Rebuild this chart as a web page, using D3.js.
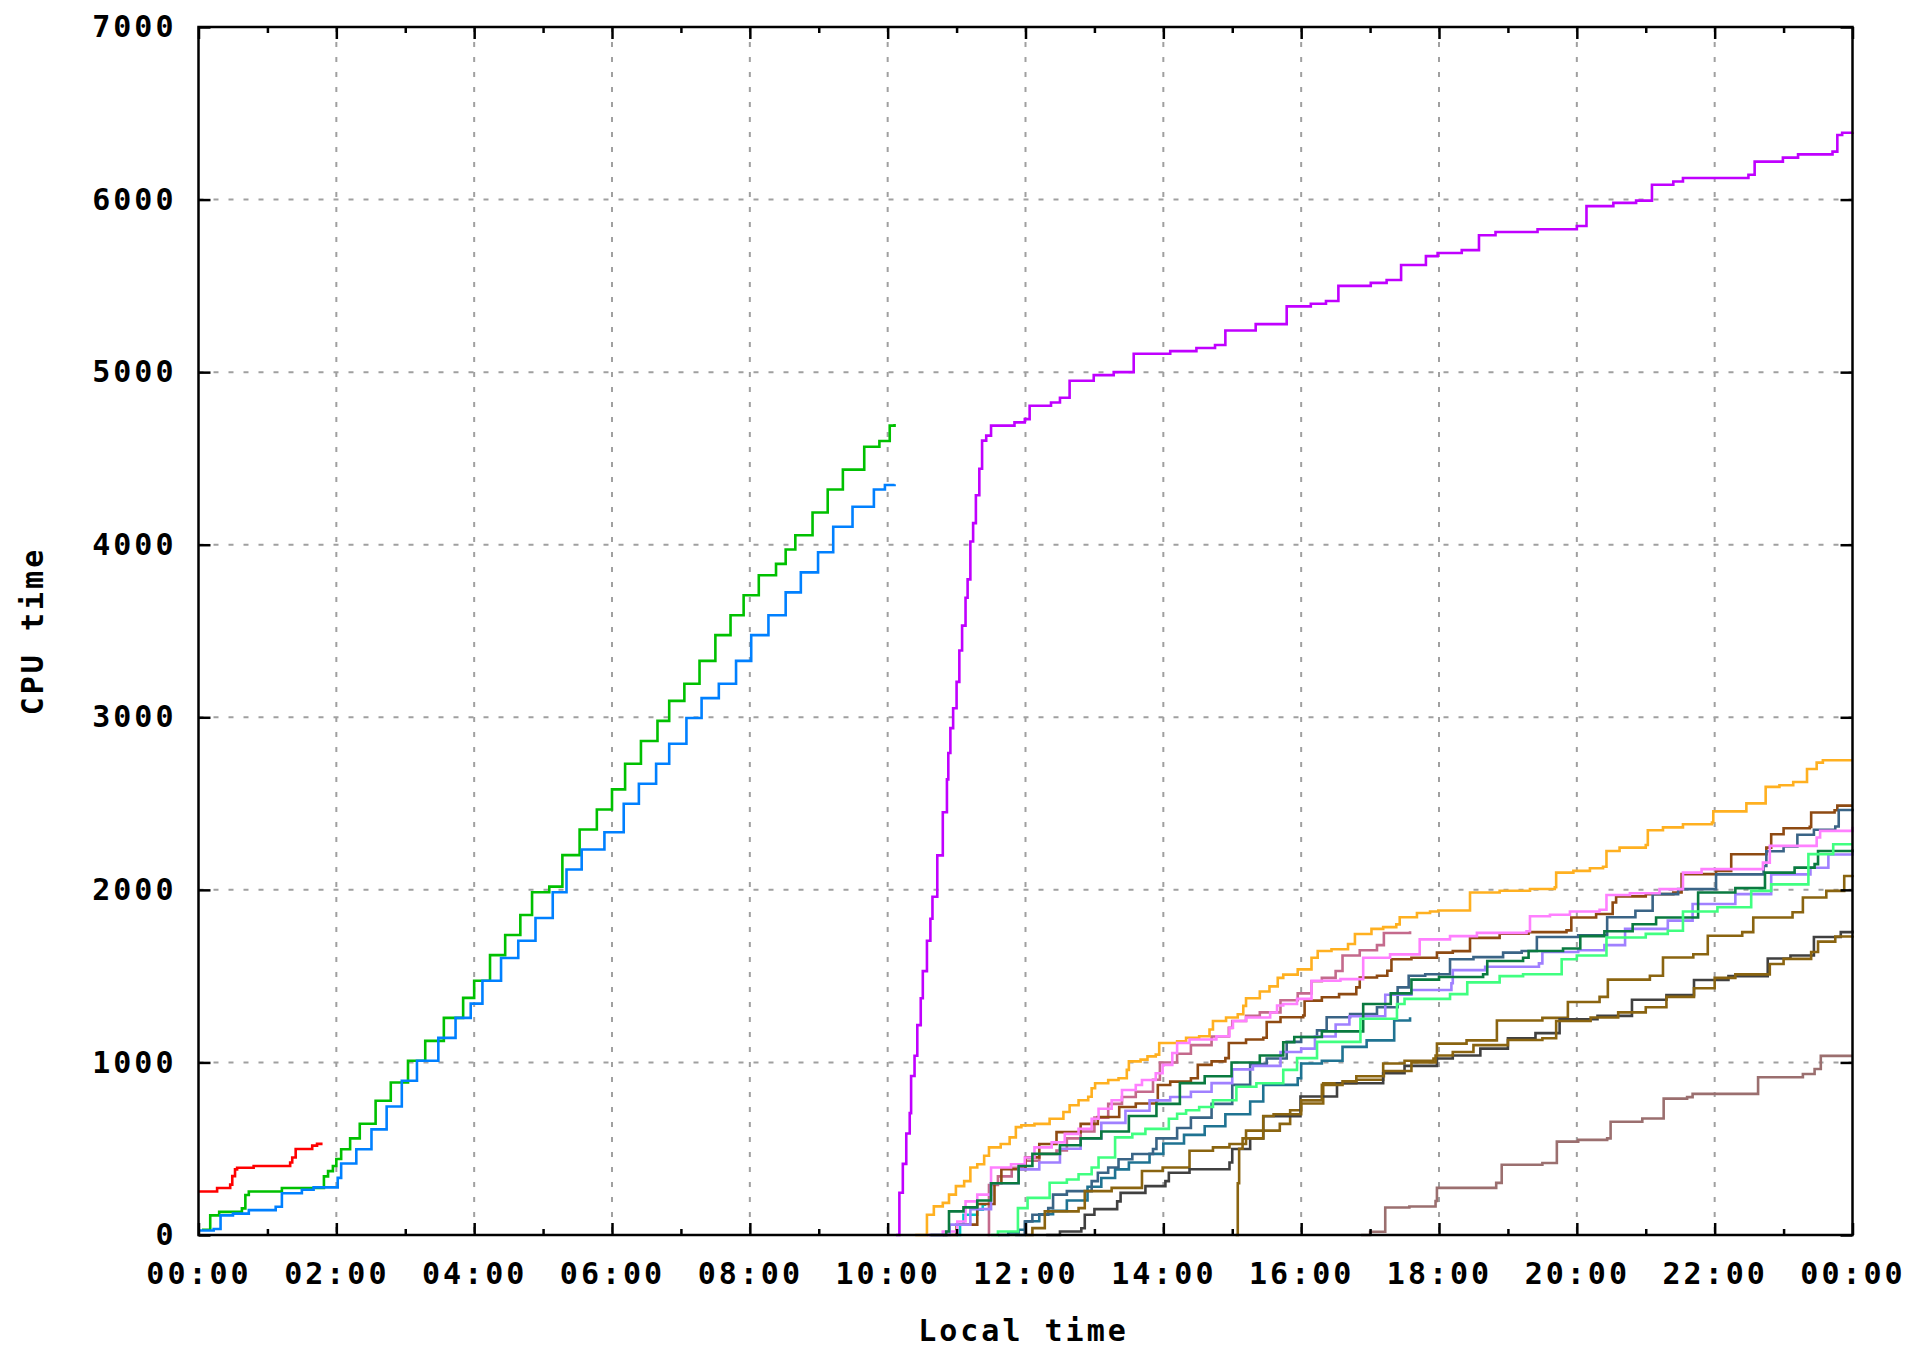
<!DOCTYPE html>
<html>
<head>
<meta charset="utf-8">
<script src="https://cdn.jsdelivr.net/npm/d3@7/dist/d3.min.js"></script>
<style>
body { margin: 0; background: #fff; }
svg text { font-family: "DejaVu Sans Mono", "Liberation Mono", monospace; font-weight: bold; fill: #000; }
</style>
</head>
<body>
<div id="chart"></div>
<script>
// hours since midnight, cumulative CPU time
var xTicks = [0, 2, 4, 6, 8, 10, 12, 14, 16, 18, 20, 22, 24];
var xTickLabels = ["00:00", "02:00", "04:00", "06:00", "08:00", "10:00", "12:00",
                   "14:00", "16:00", "18:00", "20:00", "22:00", "00:00"];
var xMinorTicks = [1, 3, 5, 7, 9, 11, 13, 15, 17, 19, 21, 23];
var yTicks = [0, 1000, 2000, 3000, 4000, 5000, 6000, 7000];

var red = [[0,252],[0.27,272],[0.46,292],[0.49,341],[0.53,380],[0.56,390],[0.8,400],[1.33,420],[1.36,449],[1.41,498],[1.65,518],[1.72,528],[1.8,528]];
var green = [[0.05,30],[0.17,114],[0.3,134],[0.63,154],[0.68,232],[0.73,252],[1.21,272],[1.82,340],[1.88,370],[1.95,400],[2.0,440],[2.07,497],[2.2,560],[2.34,645],[2.57,778],[2.79,884],[3.04,1010],[3.29,1125],[3.56,1258],[3.84,1374],[4.0,1473],[4.23,1622],[4.45,1738],[4.67,1854],[4.84,1986],[5.09,2019],[5.28,2201],[5.53,2350],[5.78,2466],[6.0,2582],[6.19,2731],[6.42,2863],[6.66,2979],[6.83,3095],[7.05,3194],[7.27,3327],[7.5,3476],[7.72,3591],[7.91,3707],[8.13,3823],[8.38,3889],[8.52,3972],[8.66,4055],[8.91,4187],[9.13,4320],[9.35,4435],[9.66,4568],[9.88,4601],[10.03,4690],[10.1,4700]];
var blue = [[0,26],[0.22,35],[0.32,114],[0.5,124],[0.73,144],[1.12,164],[1.21,242],[1.5,262],[1.67,276],[2.02,331],[2.07,414],[2.29,497],[2.51,612],[2.73,745],[2.95,894],[3.17,1010],[3.48,1142],[3.73,1258],[3.95,1341],[4.12,1473],[4.39,1605],[4.64,1705],[4.89,1837],[5.14,1986],[5.34,2118],[5.56,2234],[5.89,2334],[6.17,2499],[6.39,2615],[6.64,2731],[6.83,2847],[7.08,2996],[7.3,3111],[7.55,3194],[7.8,3327],[8.02,3476],[8.27,3591],[8.52,3724],[8.74,3840],[8.99,3956],[9.21,4104],[9.49,4220],[9.8,4320],[9.96,4346],[10.1,4350]];
var magenta = [[10.12,0],[10.17,245],[10.22,412],[10.27,588],[10.32,706],[10.34,921],[10.39,1039],[10.43,1216],[10.48,1372],[10.51,1529],[10.57,1705],[10.62,1833],[10.65,1960],[10.72,2200],[10.8,2450],[10.86,2640],[10.88,2793],[10.91,2937],[10.95,3052],[11.0,3205],[11.04,3387],[11.08,3531],[11.13,3693],[11.16,3799],[11.2,4019],[11.24,4125],[11.28,4287],[11.33,4440],[11.37,4603],[11.43,4632],[11.5,4690],[11.84,4709],[11.99,4728],[12.06,4805],[12.37,4824],[12.5,4852],[12.64,4950],[12.99,4983],[13.28,5000],[13.57,5107],[14.1,5122],[14.48,5140],[14.75,5157],[14.9,5241],[15.34,5278],[15.79,5381],[16.14,5396],[16.36,5412],[16.54,5500],[17.01,5517],[17.24,5534],[17.45,5621],[17.81,5672],[17.98,5690],[18.33,5707],[18.58,5793],[18.82,5812],[19.43,5828],[20.0,5847],[20.14,5962],[20.53,5981],[20.86,5994],[21.09,6086],[21.4,6105],[21.54,6125],[22.49,6144],[22.58,6220],[22.99,6243],[23.21,6262],[23.71,6278],[23.78,6374],[23.85,6387],[24,6390]];
var cyan = [[11.0,0],[11.05,60],[11.1,117],[11.3,146],[11.38,176],[11.43,176]];
var rose = [[11.45,0],[11.47,290],[11.6,340],[11.8,390],[12.0,430],[12.2,470],[12.45,490],[12.6,560],[12.8,600],[13.0,680],[13.2,760],[13.4,800],[13.6,830],[13.85,900],[13.95,1000],[14.2,1050],[14.4,1100],[14.7,1150],[14.95,1200],[15.0,1240],[15.2,1270],[15.4,1290],[15.7,1360],[15.95,1400],[16.15,1470],[16.3,1490],[16.5,1530],[16.6,1620],[16.85,1650],[17.1,1680],[17.2,1750],[17.58,1760]];
var teal = [[11.6,0],[11.75,15],[11.9,30],[12.0,80],[12.2,120],[12.4,140],[12.6,200],[12.9,280],[13.1,330],[13.3,380],[13.5,420],[13.8,470],[14.0,530],[14.3,580],[14.6,630],[14.9,700],[15.26,774],[15.45,870],[15.95,908],[16.0,994],[16.3,1010],[16.6,1090],[16.95,1128],[17.35,1243],[17.58,1262]];
var orange = [[10.4,0],[10.57,117],[10.67,166],[10.8,186],[10.89,234],[10.99,283],[11.11,312],[11.2,391],[11.3,410],[11.4,459],[11.47,508],[11.64,527],[11.77,566],[11.86,625],[11.94,635],[12.13,644],[12.35,674],[12.55,713],[12.64,752],[12.77,781],[12.91,801],[12.96,850],[13.01,879],[13.2,898],[13.35,908],[13.47,957],[13.5,1006],[13.67,1016],[13.77,1035],[13.89,1045],[13.94,1113],[14.2,1123],[14.33,1143],[14.52,1152],[14.67,1191],[14.72,1240],[14.91,1260],[15.08,1279],[15.16,1328],[15.2,1372],[15.4,1411],[15.54,1441],[15.66,1490],[15.74,1509],[15.95,1539],[16.15,1607],[16.24,1646],[16.44,1656],[16.68,1686],[16.78,1744],[17.02,1774],[17.19,1784],[17.38,1800],[17.43,1841],[17.68,1866],[17.87,1875],[17.99,1880],[18.45,1985],[18.88,1995],[19.32,2005],[19.68,2015],[19.7,2100],[19.95,2110],[20.19,2125],[20.38,2134],[20.43,2225],[20.62,2245],[21.0,2260],[21.03,2345],[21.25,2362],[21.54,2380],[21.96,2390],[21.98,2455],[22.46,2501],[22.74,2597],[22.94,2606],[23.14,2625],[23.34,2700],[23.48,2737],[23.57,2751],[24,2751]];
var brown = [[10.8,0],[11.0,60],[11.3,180],[11.55,300],[11.65,381],[12.0,450],[12.2,527],[12.45,596],[12.8,644],[13.05,684],[13.36,742],[13.6,762],[13.9,781],[13.92,869],[14.1,889],[14.4,908],[14.5,986],[14.7,1006],[14.9,1025],[14.95,1113],[15.2,1133],[15.45,1143],[15.5,1234],[15.7,1262],[16.03,1272],[16.05,1358],[16.3,1378],[16.55,1396],[16.8,1435],[16.85,1492],[17.1,1502],[17.25,1531],[17.31,1598],[17.6,1607],[17.97,1636],[18.2,1645],[18.45,1722],[18.88,1746],[19.3,1755],[19.85,1765],[19.92,1840],[20.28,1860],[20.52,1927],[20.57,1962],[21.0,1975],[21.4,1985],[21.52,2091],[22.02,2110],[22.24,2206],[22.75,2245],[22.82,2322],[23.0,2357],[23.38,2365],[23.4,2448],[23.74,2461],[23.78,2488],[24,2488]];
var steel = [[11.85,0],[11.99,78],[12.1,117],[12.33,156],[12.4,234],[12.6,254],[12.96,312],[13.05,361],[13.2,391],[13.35,439],[13.55,469],[13.85,498],[13.9,560],[14.2,620],[14.4,680],[14.7,760],[15.0,870],[15.26,990],[15.5,1023],[15.79,1119],[16.0,1147],[16.23,1186],[16.37,1262],[16.71,1280],[17.1,1320],[17.4,1435],[17.56,1502],[17.8,1511],[18.16,1598],[18.5,1610],[18.93,1636],[19.2,1646],[19.42,1727],[20.02,1736],[20.44,1841],[20.85,1879],[21.1,1975],[21.47,2004],[22.02,2090],[22.71,2138],[22.75,2224],[23.0,2252],[23.2,2319],[23.44,2348],[23.75,2367],[23.8,2463],[24,2470]];
var pink = [[10.57,0],[10.8,20],[11.01,78],[11.13,195],[11.3,234],[11.5,391],[11.79,410],[11.99,449],[12.13,508],[12.38,537],[12.57,586],[12.77,615],[12.96,674],[13.06,732],[13.25,781],[13.4,840],[13.6,869],[13.69,898],[13.89,937],[13.99,986],[14.13,1055],[14.2,1113],[14.38,1133],[14.77,1152],[14.96,1201],[15.01,1240],[15.2,1260],[15.55,1289],[15.65,1330],[15.74,1339],[15.94,1368],[16.15,1473],[16.57,1483],[16.9,1607],[17.29,1626],[17.72,1713],[18.16,1732],[18.55,1751],[19.27,1760],[19.32,1847],[19.61,1856],[19.9,1875],[20.33,1885],[20.43,1970],[20.77,1980],[21.2,2004],[21.54,2100],[21.81,2120],[22.7,2158],[22.8,2255],[23.48,2303],[23.53,2342],[24,2365]];
var lavender = [[10.6,0],[10.9,60],[11.2,150],[11.5,300],[11.9,380],[12.2,420],[12.5,500],[12.8,560],[13.1,650],[13.45,720],[13.8,780],[14.1,800],[14.4,830],[14.7,880],[15.0,960],[15.3,980],[15.7,1060],[16.0,1080],[16.2,1150],[16.5,1220],[16.7,1268],[17.22,1392],[17.6,1420],[18.18,1459],[18.2,1535],[18.67,1554],[19.45,1574],[19.5,1640],[20.02,1650],[20.4,1680],[20.7,1774],[21.32,1822],[21.68,1918],[22.3,1975],[22.82,2090],[23.39,2128],[23.65,2205],[24,2230]];
var darkGreen = [[10.62,0],[10.85,20],[10.89,137],[11.1,160],[11.3,200],[11.5,300],[11.9,400],[12.1,470],[12.5,520],[12.8,560],[13.1,600],[13.5,690],[13.9,760],[14.24,880],[14.6,920],[14.99,1000],[15.4,1040],[15.74,1117],[15.9,1147],[16.3,1180],[16.9,1339],[17.3,1400],[17.6,1480],[18.0,1495],[18.64,1511],[18.7,1588],[19.22,1607],[19.3,1646],[19.8,1660],[20.05,1732],[20.4,1760],[20.81,1801],[21.15,1840],[21.76,1985],[22.3,2010],[22.73,2100],[23.16,2129],[23.45,2149],[23.5,2225],[24,2235]];
var spring = [[11.5,0],[11.6,20],[11.89,156],[12.03,215],[12.35,303],[12.6,322],[12.77,352],[12.96,391],[13.06,449],[13.3,566],[13.55,586],[13.74,615],[14.08,674],[14.2,703],[14.33,723],[14.52,742],[14.72,781],[15.06,859],[15.35,879],[15.74,957],[15.94,1025],[16.23,1119],[16.86,1253],[17.39,1339],[17.5,1368],[18.16,1396],[18.41,1464],[18.88,1500],[19.22,1511],[19.78,1598],[20.0,1620],[20.43,1724],[21.0,1745],[21.32,1763],[21.54,1875],[22.04,1899],[22.53,1994],[22.82,2032],[23.36,2207],[23.72,2264],[24,2264]];
var olive = [[12.0,0],[12.1,40],[12.28,137],[12.77,156],[12.86,254],[13.25,273],[13.69,371],[13.99,391],[14.38,488],[14.72,508],[14.96,527],[15.2,605],[15.69,644],[15.84,723],[16.0,762],[16.32,879],[16.8,900],[17.19,994],[17.5,1010],[17.92,1023],[17.97,1109],[18.4,1128],[18.84,1243],[19.5,1258],[19.87,1350],[20.33,1380],[20.45,1480],[21.06,1502],[21.25,1608],[21.69,1627],[21.9,1734],[22.4,1755],[22.56,1840],[23.13,1870],[23.28,1956],[23.62,1994],[23.88,2080],[24,2086]];
var gray = [[12.3,0],[12.5,20],[12.81,39],[12.86,117],[13.0,150],[13.33,195],[13.38,244],[13.74,283],[14.03,312],[14.08,361],[14.38,381],[14.96,420],[15.0,498],[15.26,560],[15.45,688],[15.99,803],[16.52,879],[17.19,937],[17.5,980],[17.97,1023],[18.2,1040],[18.6,1080],[19.0,1140],[19.4,1170],[19.75,1250],[20.3,1270],[20.8,1363],[21.3,1390],[21.7,1478],[22.2,1500],[22.77,1602],[23.1,1620],[23.44,1727],[23.83,1755],[24,1764]];
var olive2 = [[15.05,0],[15.08,300],[15.1,500],[15.15,560],[15.45,690],[15.6,700],[16.0,780],[16.3,870],[16.6,890],[16.8,920],[17.2,950],[17.6,1000],[17.95,1040],[18.2,1060],[18.5,1100],[19.0,1130],[19.5,1140],[19.7,1240],[20.2,1260],[20.6,1290],[21.0,1320],[21.3,1380],[21.7,1430],[22.0,1490],[22.3,1510],[22.8,1570],[23.0,1600],[23.4,1640],[23.5,1700],[23.75,1730],[24,1736]];
var rosy = [[16.87,0],[17.0,19],[17.22,159],[17.57,165],[17.95,197],[17.97,273],[18.83,302],[18.91,407],[19.5,417],[19.71,541],[20.02,551],[20.44,560],[20.49,656],[20.95,675],[21.26,790],[21.6,799],[21.68,818],[22.61,818],[22.63,914],[23.28,933],[23.45,962],[23.54,1038],[24,1038]];

var seriesList = [red, green, blue, magenta, cyan, rose, teal, orange, brown, steel,
                  pink, lavender, darkGreen, spring, olive, gray, olive2, rosy];
var seriesColors = ["#ff0000", "#00c000", "#0080ff", "#c000ff", "#00c8c8", "#c46a8c",
                    "#1f7392", "#ffb020", "#8e4a12", "#3a6486", "#ff80ff", "#a080ff",
                    "#0a7a40", "#40ff80", "#8a6410", "#404040", "#8a6410", "#9b6f6f"];

var w = 1910, h = 1348;
var plotLeft = 198.5, plotRight = 1852.5, plotTop = 27, plotBottom = 1235;

var svg = d3.select("#chart").append("svg")
    .attr("width", w)
    .attr("height", h)
    .style("background", "#fff");

var x = d3.scaleLinear().domain([0, 24]).range([plotLeft, plotRight]);
var y = d3.scaleLinear().domain([0, 7000]).range([plotBottom, plotTop]);

// dashed grid
var grid = svg.append("g")
    .attr("stroke", "#a0a0a0")
    .attr("stroke-width", 2)
    .attr("stroke-dasharray", "5,10");
grid.selectAll("line.v").data(xTicks.slice(1, -1)).enter().append("line")
    .attr("x1", d => x(d)).attr("x2", d => x(d))
    .attr("y1", plotTop).attr("y2", plotBottom);
grid.selectAll("line.h").data(yTicks.slice(1, -1)).enter().append("line")
    .attr("x1", plotLeft).attr("x2", plotRight)
    .attr("y1", d => y(d)).attr("y2", d => y(d));

// series
var line = d3.line()
    .x(d => x(d[0]))
    .y(d => y(d[1]))
    .curve(d3.curveStepAfter);

svg.append("g").selectAll("path")
    .data(seriesList)
    .enter().append("path")
    .attr("fill", "none")
    .attr("stroke", (d, i) => seriesColors[i])
    .attr("stroke-width", 2.6)
    .attr("d", line);

// axes with inward ticks
function styleAxis(g) {
    g.select(".domain").remove();
    g.selectAll(".tick line").attr("stroke", "#000").attr("stroke-width", 2.5);
    g.selectAll(".tick text")
        .attr("font-size", 30)
        .attr("letter-spacing", 3)
        .attr("fill", "#000");
}

svg.append("g")
    .attr("transform", `translate(0,${plotBottom})`)
    .call(d3.axisBottom(x).tickValues(xTicks).tickSize(-12).tickPadding(28)
        .tickFormat((d, i) => xTickLabels[i]))
    .call(styleAxis);
svg.append("g")
    .attr("transform", `translate(0,${plotBottom})`)
    .call(d3.axisBottom(x).tickValues(xMinorTicks).tickSize(-6).tickFormat(""))
    .call(styleAxis);
svg.append("g")
    .attr("transform", `translate(0,${plotTop})`)
    .call(d3.axisTop(x).tickValues(xTicks).tickSize(-12).tickFormat(""))
    .call(styleAxis);
svg.append("g")
    .attr("transform", `translate(0,${plotTop})`)
    .call(d3.axisTop(x).tickValues(xMinorTicks).tickSize(-6).tickFormat(""))
    .call(styleAxis);
svg.append("g")
    .attr("transform", `translate(${plotLeft},0)`)
    .call(d3.axisLeft(y).tickValues(yTicks).tickSize(-12).tickPadding(22)
        .tickFormat(d3.format("d")))
    .call(styleAxis);
svg.append("g")
    .attr("transform", `translate(${plotRight},0)`)
    .call(d3.axisRight(y).tickValues(yTicks).tickSize(-12).tickFormat(""))
    .call(styleAxis);

// frame
svg.append("rect")
    .attr("x", plotLeft).attr("y", plotTop)
    .attr("width", plotRight - plotLeft).attr("height", plotBottom - plotTop)
    .attr("fill", "none")
    .attr("stroke", "#000")
    .attr("stroke-width", 2.5);

// axis titles
svg.append("text")
    .attr("x", (plotLeft + plotRight) / 2 - 2)
    .attr("y", 1332)
    .attr("text-anchor", "middle")
    .attr("dominant-baseline", "middle")
    .attr("font-size", 30)
    .attr("letter-spacing", 3)
    .text("Local time");

svg.append("text")
    .attr("transform", `translate(34,${(plotTop + plotBottom) / 2}) rotate(-90)`)
    .attr("text-anchor", "middle")
    .attr("dominant-baseline", "middle")
    .attr("font-size", 30)
    .attr("letter-spacing", 3)
    .text("CPU time");
</script>
</body>
</html>
